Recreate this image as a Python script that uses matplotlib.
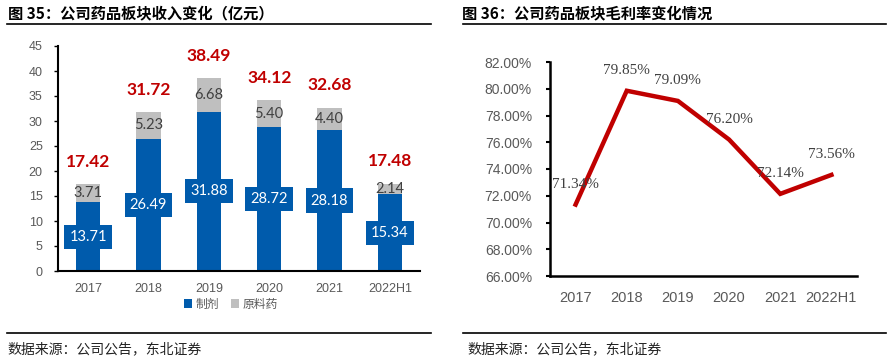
import matplotlib
matplotlib.use("Agg")
import matplotlib.pyplot as plt
from matplotlib.lines import Line2D
from matplotlib.patches import Patch
from matplotlib.ticker import FuncFormatter

plt.rcParams['font.family'] = ['Liberation Sans', 'Noto Sans CJK SC', 'DejaVu Sans']

# ---- data ----
categories = ['2017', '2018', '2019', '2020', '2021', '2022H1']
preparation = [13.71, 26.49, 31.88, 28.72, 28.18, 15.34]   # 制剂
api = [3.71, 5.23, 6.68, 5.40, 4.40, 2.14]                 # 原料药
totals = [17.42, 31.72, 38.49, 34.12, 32.68, 17.48]
gross_margin = [71.34, 79.85, 79.09, 76.20, 72.14, 73.56]  # %
legend_labels = ['制剂', '原料药']
title_left = '图 35：公司药品板块收入变化（亿元）'
title_right = '图 36：公司药品板块毛利率变化情况'
source_text = '数据来源：公司公告，东北证券'

W, H = 889, 359
fig = plt.figure(figsize=(W / 100, H / 100), dpi=100)

def fx(px):
    return px / W

def fy(py):
    return 1 - py / H

BLUE = '#005BAC'
GRAY = '#BFBFBF'
RED = '#C00000'
TICK = '#595959'
cjk = ['Noto Sans CJK SC', 'DejaVu Sans']

# ---- titles, rules, source ----
fig.text(fx(8), fy(13), title_left, fontsize=11, fontweight='bold', family=cjk, va='center', ha='left')
fig.text(fx(462), fy(13), title_right, fontsize=11, fontweight='bold', family=cjk, va='center', ha='left')
for x0, x1 in [(7, 431), (463, 886)]:
    fig.add_artist(Line2D([fx(x0), fx(x1)], [fy(24), fy(24)], color='black', lw=1.2))
    fig.add_artist(Line2D([fx(x0), fx(x1)], [fy(333), fy(333)], color='black', lw=1.2))
fig.text(fx(7), fy(349), source_text, fontsize=10, family=cjk, va='center', ha='left', color='#222222')
fig.text(fx(467), fy(349), source_text, fontsize=10, family=cjk, va='center', ha='left', color='#222222')

# ---- left chart ----
ax = fig.add_axes([fx(58), fy(271), fx(420) - fx(58), fy(46) - fy(271)])
x = range(len(categories))
ax.bar(x, preparation, width=0.4, color=BLUE, zorder=2)
ax.bar(x, api, bottom=preparation, width=0.4, color=GRAY, zorder=2)
ax.set_xlim(-0.5, len(categories) - 0.5)
ax.set_ylim(0, 45)
ax.set_yticks(range(0, 46, 5))
ax.set_xticks(list(x))
ax.set_xticklabels(categories)
for s in ['top', 'right']:
    ax.spines[s].set_visible(False)
for s in ['left', 'bottom']:
    ax.spines[s].set_linewidth(1.5)
ax.tick_params(axis='y', length=3, width=1, pad=8, labelsize=9, labelcolor=TICK)
ax.tick_params(axis='x', length=0, pad=9, labelsize=9, labelcolor=TICK)
for i in x:
    ax.text(i, preparation[i] / 2, f'{preparation[i]:.2f}', ha='center', va='center', color='white',
            fontsize=10.5, family='Lato', zorder=4,
            bbox=dict(boxstyle='square,pad=0.35', facecolor=BLUE, edgecolor='none'))
    ax.text(i, preparation[i] + api[i] / 2, f'{api[i]:.2f}', ha='center', va='center', color='#404040',
            fontsize=10.5, family='Lato', zorder=4)
    ax.annotate(f'{totals[i]:.2f}', (i, totals[i]), xytext=(0, 16), textcoords='offset points',
                ha='center', va='center', color=RED, fontsize=12.5, fontweight='bold', family='Lato')
handles = [Patch(facecolor=BLUE, edgecolor='none'), Patch(facecolor=GRAY, edgecolor='none')]
leg = fig.legend(handles, legend_labels, loc='center', bbox_to_anchor=(fx(231), fy(304)), ncol=2,
                 frameon=False, handlelength=0.7, handleheight=0.7, handletextpad=0.3,
                 columnspacing=1.0, prop={'family': cjk, 'size': 8.5})
for t in leg.get_texts():
    t.set_color(TICK)

# ---- right chart ----
ax2 = fig.add_axes([fx(550), fy(276), fx(857) - fx(550), fy(62) - fy(276)])
ax2.plot(list(x), gross_margin, color=RED, lw=3.2, solid_joinstyle='miter', zorder=3)
ax2.set_xlim(-0.5, len(categories) - 0.5)
ax2.set_ylim(66, 82)
ax2.set_yticks(range(66, 83, 2))
ax2.yaxis.set_major_formatter(FuncFormatter(lambda v, p: f'{v:.2f}%'))
ax2.set_xticks(list(x))
ax2.set_xticklabels(categories)
for s in ['top', 'right']:
    ax2.spines[s].set_visible(False)
for s in ['left', 'bottom']:
    ax2.spines[s].set_linewidth(1.8)
ax2.tick_params(axis='y', length=3, width=1.5, pad=10, labelsize=10, labelcolor=TICK)
ax2.tick_params(axis='x', length=0, pad=11, labelsize=10.5, labelcolor=TICK)
for i in x:
    ax2.annotate(f'{gross_margin[i]:.2f}%', (i, gross_margin[i]), xytext=(0, 14.5), textcoords='offset points',
                 ha='center', va='center', color='#404040', fontsize=11, family='Liberation Serif', zorder=4)

fig.savefig('out.png', dpi=100)
